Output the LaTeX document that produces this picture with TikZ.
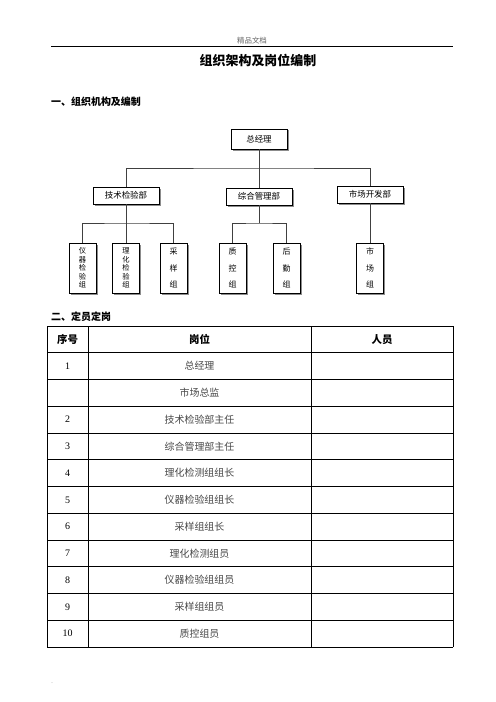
\documentclass[tikz,border=0pt]{standalone}
\usepackage{fontspec}
\setmainfont{Liberation Serif}
\newfontfamily\cjk{Noto Sans CJK SC}
\usetikzlibrary{shadows}

\begin{document}
\begin{tikzpicture}[x=1bp,y=-1bp,
    box/.style={draw,line width=1pt,fill=white,inner sep=0pt,
      font=\cjk\fontsize{8.5}{10}\selectfont,
      drop shadow={shadow xshift=1.5bp,shadow yshift=-1.5bp,fill=black!45,opacity=1}},
    topbox/.style={box,minimum width=56bp,minimum height=20bp},
    dept/.style={box,minimum width=66bp,minimum height=17bp},
    team/.style={box,minimum width=27bp,minimum height=50bp,align=center,
      font=\cjk\fontsize{8}{16.5}\selectfont},
    tightteam/.style={team,font=\cjk\fontsize{7.3}{8.6}\selectfont},
    link/.style={draw=black!75,line width=0.9pt},
    grid/.style={line width=0.9pt},
    head/.style={font=\cjk\bfseries\fontsize{10.5}{12}\selectfont},
    cell/.style={font=\cjk\fontsize{10}{12}\selectfont,text=black!72},
    num/.style={font=\fontsize{10}{12}\selectfont}]
  \fill[white] (0,0) rectangle (496,702);
  \useasboundingbox (0,0) rectangle (496,702);
  % page header
  \node[font=\cjk\fontsize{7.5}{9}\selectfont,text=black!60] (pagehead) at (252,41) {精品文档};
  \draw[line width=0.8pt] (51,46) -- (453,46);
  \node[font=\cjk\bfseries\fontsize{13}{15}\selectfont] (title) at (258,60) {组织架构及岗位编制};
  \node[anchor=west,font=\cjk\bfseries\fontsize{10}{12}\selectfont,inner sep=0pt] (sec1) at (51,102) {一、组织机构及编制};
  % org chart
  \node[topbox] (zjl) at (259,139) {总经理};
  \node[dept] (jsb) at (126,195.5) {技术检验部};
  \node[dept] (zhb) at (259,196.5) {综合管理部};
  \node[dept] (scb) at (370,194.5) {市场开发部};
  \node[tightteam] (yq) at (82.5,268) {仪\\器\\检\\验\\组};
  \node[tightteam] (lh) at (126,268) {理\\化\\检\\验\\组};
  \node[team] (cy) at (173.5,268) {采\\样\\组};
  \node[team] (zk) at (232.5,268) {质\\控\\组};
  \node[team] (hq) at (286.5,268) {后\\勤\\组};
  \node[team] (sc) at (370,268) {市\\场\\组};
  \coordinate (bus) at (259,168);
  \coordinate (busa) at (126,223);
  \coordinate (busb) at (259,223);
  \draw[link] (zjl.south) -- (zhb.north);
  \draw[link] (jsb.north) |- (bus) -| (scb.north);
  \draw[link] (jsb.south) -- (lh.north);
  \draw[link] (yq.north) |- (busa) -| (cy.north);
  \draw[link] (zhb.south) -- (busb);
  \draw[link] (zk.north) |- (busb) -| (hq.north);
  \draw[link] (scb.south) -- (sc.north);
  % staffing table
  \node[anchor=west,font=\cjk\bfseries\fontsize{10}{12}\selectfont,inner sep=0pt] (sec2) at (51,317) {二、定员定岗};
  \foreach \r in {0,...,12} \draw[grid] (47,{326+26.75*\r}) -- (453,{326+26.75*\r});
  \foreach \c in {47,88,311,453} \draw[grid] (\c,326) -- (\c,647);
  \node[head] (h1) at (67.5,339.5) {序号};
  \node[head] (h2) at (199.5,339.5) {岗位};
  \node[head] (h3) at (382,339.5) {人员};
  \foreach \n/\t [count=\i] in {1/总经理,{}/市场总监,2/技术检验部主任,3/综合管理部主任,
      4/理化检测组组长,5/仪器检验组组长,6/采样组组长,7/理化检测组员,
      8/仪器检验组组员,9/采样组组员,10/质控组员} {
    \node[num] (n\i) at (67.5,{326+26.75*\i+13.4}) {\n};
    \node[cell] (p\i) at (199.5,{326+26.75*\i+13.4}) {\t};
  }
  \node[font=\fontsize{6}{7}\selectfont,text=black!50] (dot) at (52,683) {.};
\end{tikzpicture}
\end{document}
